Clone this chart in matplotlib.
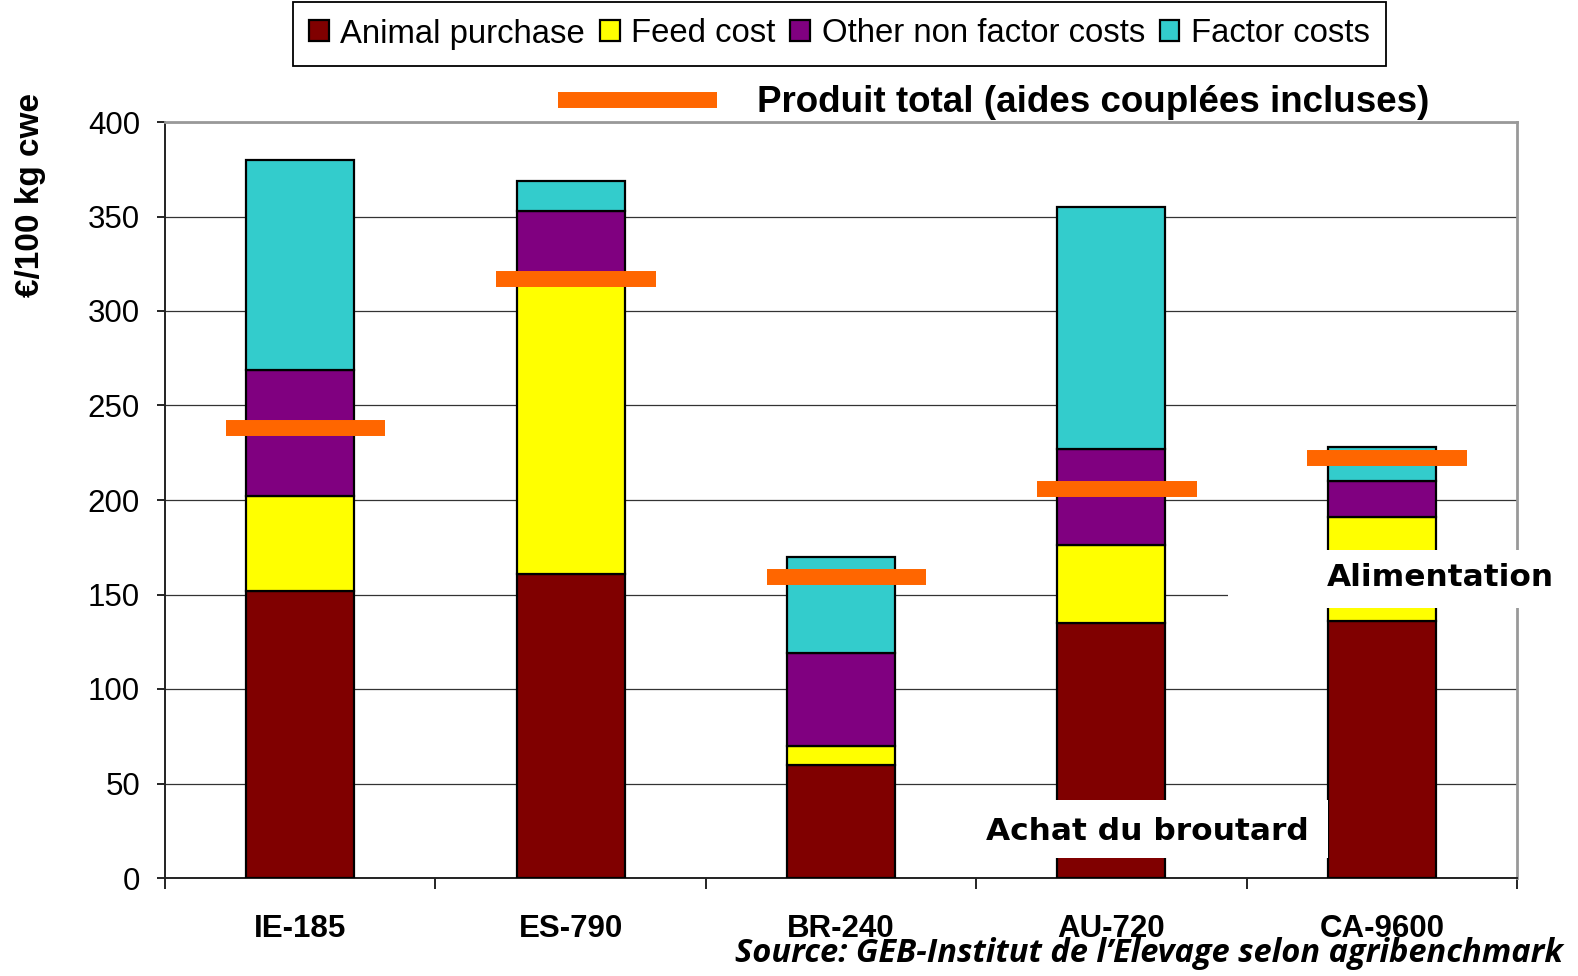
import numpy as np
import matplotlib.pyplot as plt
from matplotlib.patches import Rectangle

# data (EUR / 100 kg cwe)
farms = ["IE-185", "ES-790", "BR-240", "AU-720", "CA-9600"]
animal_purchase = np.array([152, 161, 60, 135, 136])
feed_cost = np.array([50, 153, 10, 41, 55])
other_non_factor = np.array([67, 39, 49, 51, 19])
factor_costs = np.array([111, 16, 51, 128, 18])
produit_total = np.array([238, 317, 159, 206, 222])

series = [animal_purchase, feed_cost, other_non_factor, factor_costs]
series_names = ["Animal purchase", "Feed cost", "Other non factor costs", "Factor costs"]
series_colors = ["#800000", "#FFFF00", "#800080", "#33CCCC"]

W, H = 1578, 976
fig = plt.figure(figsize=(W / 100, H / 100), dpi=100)
ax = fig.add_axes([165 / W, 1 - 878 / H, (1517 - 165) / W, (878 - 122) / H])

x = np.arange(len(farms))
bottom = np.zeros(len(farms))
bars = []
for vals, name, col in zip(series, series_names, series_colors):
    b = ax.bar(x, vals, width=0.4, bottom=bottom, color=col, edgecolor="black",
               linewidth=1.6, label=name, zorder=3)
    bars.append(b)
    bottom += vals

orange = ax.hlines(produit_total, x - 0.275, x + 0.315, colors="#FF6600",
                   linewidth=11.5, zorder=4, label="Produit total (aides couplées incluses)")
orange.set_capstyle("butt")

ax.set_xlim(-0.5, len(farms) - 0.5)
ax.set_ylim(0, 400)
ax.set_yticks(np.arange(0, 401, 50))
ax.yaxis.grid(True, color="#333333", linewidth=0.9, zorder=0)
ax.set_axisbelow(True)
ax.tick_params(axis="y", labelsize=22.5, length=6, width=1.2, pad=12)
for lab in ax.get_yticklabels():
    lab.set_fontfamily("Liberation Sans")

ax.set_xticks(np.arange(-0.5, len(farms), 1))
ax.set_xticklabels([])
ax.tick_params(axis="x", which="major", length=8, width=1.2, direction="out")
ax.set_xticks(x, minor=True)
ax.set_xticklabels(farms, minor=True, fontsize=22.5, fontweight="bold",
                   fontfamily="Liberation Sans")
ax.tick_params(axis="x", which="minor", length=0, pad=26)

for side in ["left", "bottom"]:
    ax.spines[side].set_color("#222222")
    ax.spines[side].set_linewidth(1.4)
for side in ["top", "right"]:
    ax.spines[side].set_color("#999999")
    ax.spines[side].set_linewidth(2.0)

fig.text(31 / W, 1 - 195 / H, "€/100 kg cwe", rotation=90, ha="center", va="center",
         fontsize=24, fontweight="bold", fontfamily="Liberation Sans")

leg = fig.legend(handles=bars, labels=series_names, loc="center",
                 bbox_to_anchor=(839.5 / W, 1 - 34 / H), ncol=4,
                 prop={"family": "Liberation Sans", "size": 23.7},
                 handlelength=0.6, handleheight=0.6, handletextpad=0.35,
                 columnspacing=0.45, fancybox=False, edgecolor="black",
                 framealpha=1, borderpad=0.5)
leg.get_frame().set_linewidth(1.3)

leg2 = fig.legend(handles=[orange], labels=[orange.get_label()], loc="center left",
                  bbox_to_anchor=(540 / W, 1 - 103 / H), frameon=False, borderpad=0,
                  handlelength=4.3, handletextpad=1.1,
                  prop={"family": "Liberation Sans", "size": 26.5, "weight": "bold"})

# white annotation boxes laid over the chart
fig.add_artist(Rectangle((975 / W, 1 - 858 / H), 353 / W, 58 / H,
                         transform=fig.transFigure, facecolor="white", edgecolor="none",
                         zorder=5))
fig.text(1147 / W, 1 - 831 / H, "Achat du broutard", ha="center", va="center",
         fontsize=22.5, fontweight="bold", fontfamily="DejaVu Sans", zorder=6)
fig.add_artist(Rectangle((1228 / W, 1 - 608 / H), 350 / W, 58 / H,
                         transform=fig.transFigure, facecolor="white", edgecolor="none",
                         zorder=5))
fig.text(1440 / W, 1 - 578 / H, "Alimentation", ha="center", va="center",
         fontsize=22.5, fontweight="bold", fontfamily="DejaVu Sans", zorder=6)

fig.text(1563 / W, 1 - 962 / H, "Source: GEB-Institut de l\u2019Elevage selon agribenchmark",
         ha="right", va="baseline", fontsize=23.5, fontweight="bold", fontstyle="italic",
         fontfamily="Open Sans")

fig.savefig("out.png", dpi=100)
